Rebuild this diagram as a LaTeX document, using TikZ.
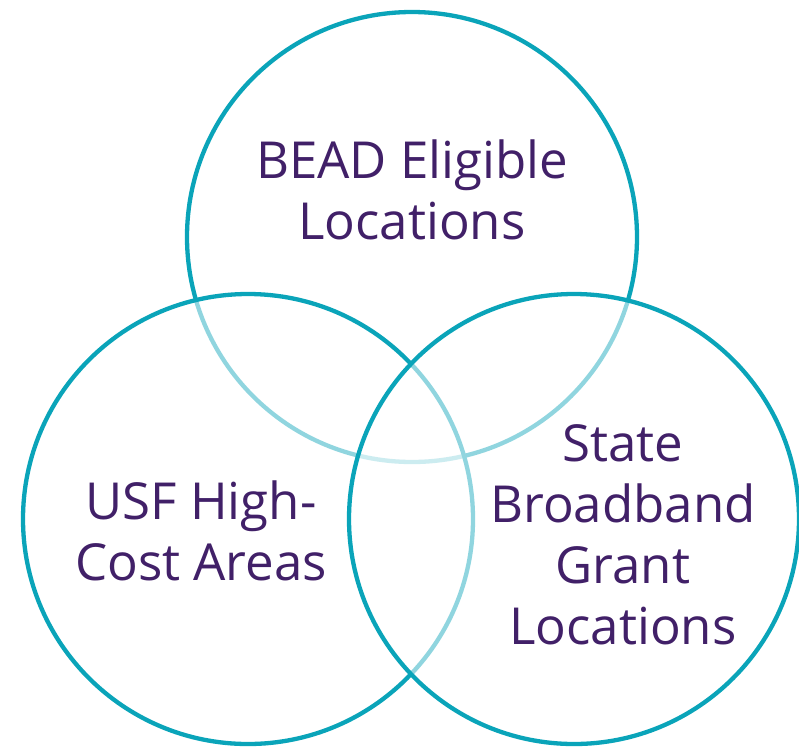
\documentclass[tikz,border=0pt]{standalone}
\usepackage{fontspec}
\setmainfont{Open Sans}
\definecolor{ring}{HTML}{0AA4B9}
\definecolor{txt}{HTML}{412068}
\begin{document}
\begin{tikzpicture}[x=1pt,y=-1pt,
  venn/.style={draw=ring,line width=4.3pt,fill=white,fill opacity=0.55,draw opacity=1},
  lbl/.style={text=txt,align=center,inner sep=0pt,font=\fontsize{51}{61}\selectfont}]
\useasboundingbox (0,0) rectangle (799,747);
\path[venn] (412,237) circle[radius=225];
\path[venn] (248,519) circle[radius=225];
\path[venn] (574,519) circle[radius=225];
\node[lbl] (bead) at (412,190) {BEAD Eligible\\Locations};
\node[lbl] (usf) at (201,531) {USF High-\\Cost Areas};
\node[lbl] (state) at (623,535) {State\\Broadband\\Grant\\Locations};
\end{tikzpicture}
\end{document}
